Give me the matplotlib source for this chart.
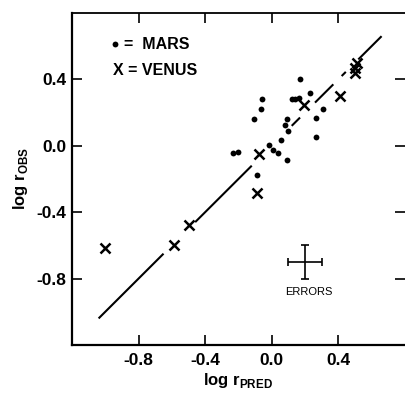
import matplotlib.pyplot as plt

plt.rcParams['font.family'] = ['Liberation Sans', 'DejaVu Sans']
plt.rcParams['mathtext.fontset'] = 'custom'
plt.rcParams['mathtext.rm'] = 'Liberation Sans'
plt.rcParams['mathtext.bf'] = 'Liberation Sans:bold'

# Mars (dots): log r_pred, log r_obs
mars_x = [0.17, -0.056, -0.062, -0.106, 0.12, 0.14, 0.165, 0.23, 0.31, 0.265,
          0.265, 0.09, 0.08, 0.10, 0.054, -0.015, 0.01, 0.04, 0.09, -0.23,
          -0.20, -0.09]
mars_y = [0.40, 0.28, 0.22, 0.16, 0.28, 0.28, 0.29, 0.32, 0.22, 0.17,
          0.05, 0.16, 0.126, 0.086, 0.036, 0.004, -0.024, -0.044, -0.084, -0.044,
          -0.036, -0.175]

# Venus (crosses)
venus_x = [-1.0, -0.59, -0.50, -0.09, -0.074, 0.193, 0.413, 0.50, 0.50, 0.51]
venus_y = [-0.615, -0.597, -0.477, -0.283, -0.048, 0.245, 0.30, 0.44, 0.47, 0.50]

# broken 1:1 line, drawn as pieces between the symbols
line_pieces = [(-1.04, -0.65), (-0.46, -0.12), (0.12, 0.17), (0.26, 0.37),
               (0.42, 0.445), (0.52, 0.66)]

# error bar sample
err_x, err_y = 0.2, -0.70
err_dx, err_dy = 0.1, 0.1

xticks = [-0.8, -0.4, 0.0, 0.4]
yticks = [-0.8, -0.4, 0.0, 0.4]

fig = plt.figure(figsize=(4.06, 4.01), dpi=100)
ax = fig.add_axes([0.1773, 0.1397, 0.820, 0.828])

for a, b in line_pieces:
    ax.plot([a, b], [a, b], color='black', lw=1.5, solid_capstyle='butt')

ax.plot(mars_x, mars_y, 'o', color='black', ms=4.2, mew=0)
ax.plot(venus_x, venus_y, 'x', color='black', ms=7, mew=1.8)

ax.errorbar([err_x], [err_y], xerr=err_dx, yerr=err_dy, fmt='none',
            ecolor='black', elinewidth=1.2, capsize=3, capthick=1.2)
ax.text(err_x + 0.025, err_y - 0.18, 'ERRORS', fontsize=8,
        ha='center', va='center')

# legend written as text
ax.plot([-0.94], [0.61], 'o', color='black', ms=4.2, mew=0)
ax.text(-0.885, 0.61, '=  MARS', fontsize=11.5, fontweight='bold',
        ha='left', va='center')
ax.text(-0.955, 0.455, 'X = VENUS', fontsize=11.5, fontweight='bold',
        ha='left', va='center')

ax.set_xlim(-1.2, 0.8)
ax.set_ylim(-1.2, 0.8)
ax.set_xticks(xticks)
ax.set_yticks(yticks)
ax.set_xticklabels(['%.1f' % v for v in xticks], fontsize=12.5, fontweight='bold')
ax.set_yticklabels(['%.1f' % v for v in yticks], fontsize=12.5, fontweight='bold')
ax.tick_params(direction='in', length=7, width=1.2, top=True, right=True)
ax.tick_params(axis='x', pad=6)
ax.tick_params(axis='y', pad=4)

ax.spines['right'].set_visible(False)
for s in ['left', 'bottom']:
    ax.spines[s].set_linewidth(1.6)
ax.spines['top'].set_linewidth(1.3)

ax.set_xlabel(r'log r$_\mathbf{PRED}$', fontsize=12, fontweight='bold', labelpad=2)
ax.set_ylabel(r'log r$_\mathbf{OBS}$', fontsize=12, fontweight='bold', labelpad=5)

fig.savefig('out.png', dpi=100)
